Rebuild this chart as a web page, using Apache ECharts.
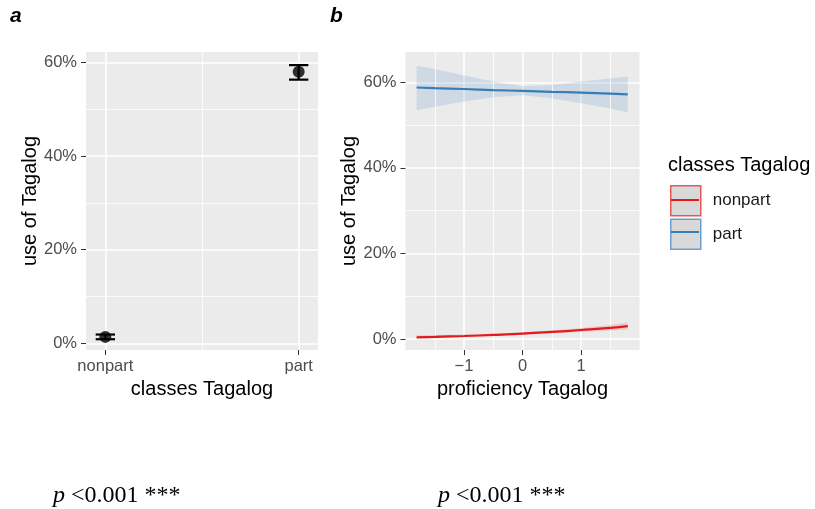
<!DOCTYPE html>
<html><head><meta charset="utf-8">
<script src="https://cdn.jsdelivr.net/npm/echarts@6/dist/echarts.min.js"></script>
<style>html,body{margin:0;padding:0;background:#fff}#c{width:815px;height:509px}</style>
</head><body><div id="c"></div>
<script>
// ---- panel a data ----
const classes = ['nonpart', 'part'];
const classX = [1, 2];
const useMean = [1.4, 58.0];
const useLow = [0.9, 56.3];
const useHigh = [1.9, 59.4];

// ---- panel b data ----
const prof = [-1.81, -1.5, -1, -0.5, 0, 0.5, 1, 1.5, 1.8];
const partFit = [58.8, 58.65, 58.45, 58.2, 58.0, 57.8, 57.6, 57.35, 57.2];
const partLow = [53.5, 54.3, 55.5, 56.5, 57.0, 56.3, 55.1, 53.9, 53.0];
const partHigh = [63.9, 63.1, 61.6, 60.2, 59.1, 59.4, 60.2, 60.9, 61.4];
const nonFit = [0.4, 0.5, 0.7, 0.95, 1.25, 1.65, 2.1, 2.6, 3.0];
const nonLow = [0.15, 0.25, 0.45, 0.7, 1.0, 1.35, 1.7, 2.0, 2.2];
const nonHigh = [0.9, 0.95, 1.05, 1.2, 1.5, 2.0, 2.6, 3.3, 3.9];

// ---- ticks ----
const yTicks = [0, 20, 40, 60];
const yMinor = [10, 30, 50];
const xTicksB = [-1, 0, 1];
const xMinorB = [-1.5, -0.5, 0.5, 1.5];
const xMinorA = [1.5];

const SANS = 'Liberation Sans, Arial, Helvetica, sans-serif';
const SERIF = 'Liberation Serif, Times New Roman, serif';
const RED = '#E41A1C', BLUE = '#377EB8';

const chart = echarts.init(document.getElementById('c'), null, {renderer: 'canvas'});

function minorLines(xs, ys) {
  return {
    silent: true, symbol: ['none', 'none'], animation: false,
    label: {show: false}, emphasis: {disabled: true},
    lineStyle: {color: '#ffffff', width: 0.8, type: 'solid', opacity: 1},
    data: xs.map(v => ({xAxis: v})).concat(ys.map(v => ({yAxis: v})))
  };
}

function band(name, low, high, color) {
  return {
    type: 'custom', name: name, xAxisIndex: 1, yAxisIndex: 1, silent: true, z: 2,
    clip: true, data: [[0, 0]],
    renderItem: function (params, api) {
      const pts = [];
      for (let i = 0; i < prof.length; i++) pts.push(api.coord([prof[i], high[i]]));
      for (let i = prof.length - 1; i >= 0; i--) pts.push(api.coord([prof[i], low[i]]));
      return {type: 'polygon', shape: {points: pts}, style: {fill: color}};
    }
  };
}

const yAxisCommon = {
  type: 'value',
  axisLine: {show: false, onZero: false},
  axisTick: {show: true, length: 5, customValues: yTicks, lineStyle: {color: '#333', width: 1}},
  axisLabel: {customValues: yTicks, formatter: v => v + '%', color: '#4D4D4D', fontSize: 16.5, fontFamily: SANS, margin: 9},
  splitLine: {show: true, lineStyle: {color: '#fff', width: 1.6}},
  name: 'use of Tagalog', nameLocation: 'middle', nameGap: 45,
  nameTextStyle: {fontSize: 20, color: '#000', fontFamily: SANS}
};

const option = {
  animation: false,
  backgroundColor: '#ffffff',
  title: [
    {text: 'a', left: 10, top: 6, padding: 0, textStyle: {fontSize: 21, fontWeight: 'bold', fontStyle: 'italic', fontFamily: SANS, color: '#000'}},
    {text: 'b', left: 330, top: 6, padding: 0, textStyle: {fontSize: 21, fontWeight: 'bold', fontStyle: 'italic', fontFamily: SANS, color: '#000'}},
    {text: 'classes Tagalog', left: 668, top: 155, padding: 0, textStyle: {fontSize: 20, fontWeight: 'normal', fontFamily: SANS, color: '#000'}},
    {text: '{i|p} <0.001 ***', left: 53, top: 484, padding: 0,
     textStyle: {fontSize: 24, fontWeight: 'normal', fontFamily: SERIF, color: '#000',
       rich: {i: {fontStyle: 'italic', fontSize: 24, fontFamily: SERIF, color: '#000'}}}},
    {text: '{i|p} <0.001 ***', left: 438, top: 484, padding: 0,
     textStyle: {fontSize: 24, fontWeight: 'normal', fontFamily: SERIF, color: '#000',
       rich: {i: {fontStyle: 'italic', fontSize: 24, fontFamily: SERIF, color: '#000'}}}}
  ],
  legend: [
    {
      left: 670, top: 185, orient: 'vertical', icon: 'rect', itemWidth: 30, itemHeight: 30, itemGap: 2,
      selectedMode: false, padding: 0,
      data: [
        {name: 'nonpart', itemStyle: {color: '#D9D9D9', borderColor: 'rgba(232,70,70,0.9)', borderWidth: 1.5}},
        {name: 'part', itemStyle: {color: '#D9D9D9', borderColor: 'rgba(90,150,210,0.9)', borderWidth: 1.5}}
      ],
      textStyle: {fontSize: 17, color: '#1a1a1a', fontFamily: SANS, padding: [0, 0, 0, 7], lineHeight: 30}
    },
    {
      left: 671, top: 185, orient: 'vertical', icon: 'rect', itemWidth: 28, itemHeight: 2, itemGap: 2,
      selectedMode: false, padding: 0,
      data: [
        {name: 'nonpart', itemStyle: {color: RED, borderWidth: 0}},
        {name: 'part', itemStyle: {color: BLUE, borderWidth: 0}}
      ],
      textStyle: {fontSize: 17, color: 'rgba(0,0,0,0)', fontFamily: SANS, padding: [0, 0, 0, 7], lineHeight: 30}
    }
  ],
  grid: [
    {left: 86, top: 52, width: 232, height: 298, show: true, backgroundColor: '#EBEBEB', borderWidth: 0, containLabel: false},
    {left: 405.5, top: 52, width: 234, height: 298, show: true, backgroundColor: '#EBEBEB', borderWidth: 0, containLabel: false}
  ],
  xAxis: [
    {
      type: 'value', gridIndex: 0, min: 0.9, max: 2.1, position: 'bottom',
      axisLine: {show: false, onZero: false},
      axisTick: {show: true, length: 5, customValues: classX, lineStyle: {color: '#333'}},
      axisLabel: {customValues: classX, formatter: v => classes[classX.indexOf(v)], color: '#4D4D4D', fontSize: 16.5, fontFamily: SANS, margin: 8},
      splitLine: {show: true, lineStyle: {color: '#fff', width: 1.6}},
      name: 'classes Tagalog', nameLocation: 'middle', nameGap: 27,
      nameTextStyle: {fontSize: 20, color: '#000', fontFamily: SANS}
    },
    {
      type: 'value', gridIndex: 1, min: -2, max: 2, position: 'bottom',
      axisLine: {show: false, onZero: false},
      axisTick: {show: true, length: 5, customValues: xTicksB, lineStyle: {color: '#333'}},
      axisLabel: {customValues: xTicksB, formatter: v => (v < 0 ? '\u2212' + Math.abs(v) : String(v)), color: '#4D4D4D', fontSize: 16.5, fontFamily: SANS, margin: 8},
      splitLine: {show: true, lineStyle: {color: '#fff', width: 1.6}},
      name: 'proficiency Tagalog', nameLocation: 'middle', nameGap: 27,
      nameTextStyle: {fontSize: 20, color: '#000', fontFamily: SANS}
    }
  ],
  yAxis: [
    Object.assign({}, yAxisCommon, {gridIndex: 0, min: -1.4, max: 62.2, position: 'left'}),
    Object.assign({}, yAxisCommon, {gridIndex: 1, min: -2.57, max: 67.1, position: 'left'})
  ],
  series: [
    // panel a
    {
      type: 'line', name: 'gridA', xAxisIndex: 0, yAxisIndex: 0, data: [], z: 1,
      markLine: minorLines(xMinorA, yMinor)
    },
    {
      type: 'custom', name: 'errA', xAxisIndex: 0, yAxisIndex: 0, z: 3,
      data: classX.map((x, i) => [x, useLow[i], useHigh[i]]),
      encode: {x: 0, y: [1, 2]},
      renderItem: function (params, api) {
        const x = api.value(0);
        const lo = api.coord([x, api.value(1)]);
        const hi = api.coord([x, api.value(2)]);
        const w = api.size([0.1, 0])[0] / 2;
        const st = {stroke: '#000', lineWidth: 2.2};
        return {type: 'group', children: [
          {type: 'line', shape: {x1: lo[0], y1: lo[1], x2: hi[0], y2: hi[1]}, style: st},
          {type: 'line', shape: {x1: lo[0] - w, y1: lo[1], x2: lo[0] + w, y2: lo[1]}, style: st},
          {type: 'line', shape: {x1: hi[0] - w, y1: hi[1], x2: hi[0] + w, y2: hi[1]}, style: st}
        ]};
      }
    },
    {
      type: 'scatter', name: 'meanA', xAxisIndex: 0, yAxisIndex: 0, z: 4,
      data: classX.map((x, i) => [x, useMean[i]]),
      symbol: 'circle', symbolSize: 12, itemStyle: {color: '#000'}
    },
    // panel b
    {
      type: 'line', name: 'gridB', xAxisIndex: 1, yAxisIndex: 1, data: [], z: 1,
      markLine: minorLines(xMinorB, yMinor)
    },
    band('partBand', partLow, partHigh, 'rgba(55,126,184,0.16)'),
    band('nonBand', nonLow, nonHigh, 'rgba(228,26,28,0.16)'),
    {
      type: 'line', name: 'part', xAxisIndex: 1, yAxisIndex: 1, z: 5,
      data: prof.map((x, i) => [x, partFit[i]]), smooth: true, symbol: 'none',
      lineStyle: {color: BLUE, width: 2.2}, itemStyle: {color: BLUE}
    },
    {
      type: 'line', name: 'nonpart', xAxisIndex: 1, yAxisIndex: 1, z: 5,
      data: prof.map((x, i) => [x, nonFit[i]]), smooth: true, symbol: 'none',
      lineStyle: {color: RED, width: 2.2}, itemStyle: {color: RED}
    }
  ]
};
chart.setOption(option);
</script>
</body></html>
